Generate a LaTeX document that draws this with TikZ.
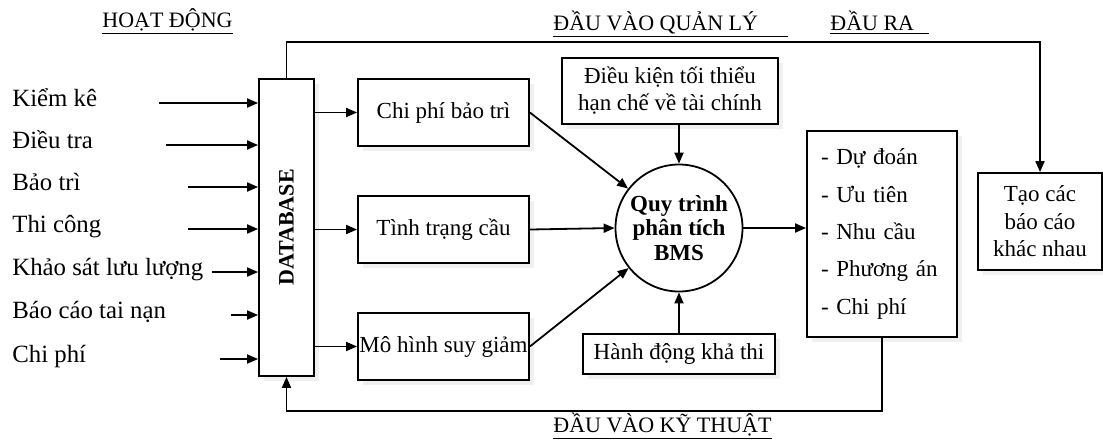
\documentclass[tikz,border=0pt]{standalone}
\usepackage{fontspec}
\setmainfont{Liberation Serif}
\usetikzlibrary{arrows.meta,positioning,shadows}

\begin{document}
\begin{tikzpicture}[x=0.5pt,y=-0.5pt,
  box/.style={draw, fill=white, line width=0.9pt, inner sep=0pt, align=center, font=\fontsize{11.5}{13.5}\selectfont,
    drop shadow={shadow xshift=2.5pt, shadow yshift=-2.5pt, fill=black!6, opacity=1}},
  arr/.style={-{Triangle[length=5.5pt,width=4.5pt]}, line width=0.9pt},
  lbl/.style={anchor=base west, inner sep=0pt, font=\fontsize{12.4}{14}\selectfont},
  head/.style={anchor=base west, inner sep=0pt, font=\fontsize{11}{13}\selectfont}]
  \useasboundingbox (0,0) rectangle (1103,441);

  % headings
  \node[head] (hoatdong) at (102,27) {\underline{HOẠT ĐỘNG}};
  \node[head] (quanly) at (553,30) {\underline{ĐẦU VÀO QUẢN LÝ\hspace{15pt}}};
  \node[head] (daura) at (830,30) {\underline{ĐẦU RA\hspace{7.5pt}}};
  \node[head] (kythuat) at (553,432) {\underline{ĐẦU VÀO KỸ THUẬT}};

  % database
  \node[box, minimum width=27.5pt, minimum height=148.5pt] (db) at (286.5,227.5) {};
  \node[rotate=90, font=\fontsize{11}{13}\selectfont\bfseries] (dbtext) at (db) {DATABASE};

  % activities
  \node[lbl] (kiemke) at (12,106) {Kiểm kê};
  \node[lbl] (dieutra) at (12,148) {Điều tra};
  \node[lbl] (baotri) at (12,190) {Bảo trì};
  \node[lbl] (thicong) at (12,232) {Thi công};
  \node[lbl] (khaosat) at (12,275) {Khảo sát lưu lượng};
  \node[lbl] (taonan) at (12,318) {Báo cáo tai nạn};
  \node[lbl] (chiphi) at (12,362) {Chi phí};

  \coordinate (in1) at (159,103);
  \coordinate (in2) at (166,145);
  \coordinate (in3) at (188,187);
  \coordinate (in4) at (188,229);
  \coordinate (in5) at (212,272);
  \coordinate (in6) at (231,315);
  \coordinate (in7) at (220,359);
  \draw[arr] (in1) -- (in1 -| db.west);
  \draw[arr] (in2) -- (in2 -| db.west);
  \draw[arr] (in3) -- (in3 -| db.west);
  \draw[arr] (in4) -- (in4 -| db.west);
  \draw[arr] (in5) -- (in5 -| db.west);
  \draw[arr] (in6) -- (in6 -| db.west);
  \draw[arr] (in7) -- (in7 -| db.west);

  % data boxes
  \node[box, minimum width=85.5pt, minimum height=33.5pt] (cpbt) at (443.5,112.5) {Chi phí bảo trì};
  \node[box, minimum width=85.5pt, minimum height=33.5pt] (ttc) at (443.5,229.5) {Tình trạng cầu};
  \node[box, minimum width=85.5pt, minimum height=33.5pt] (mhsg) at (443.5,346.5) {Mô hình suy giảm};

  \draw[arr] (db.east |- cpbt) -- (cpbt.west);
  \draw[arr] (db.east |- ttc) -- (ttc.west);
  \draw[arr] (db.east |- mhsg) -- (mhsg.west);

  % analysis
  \node[draw, circle, line width=0.9pt, minimum size=63.5pt, inner sep=0pt, align=center,
    font=\fontsize{11.5}{12.25}\selectfont\bfseries] (bms) at (679,228) {Quy trình\\phân tích\\BMS};
  \node[box, minimum width=108pt, minimum height=33pt] (dieukien) at (670,91) {Điều kiện tối thiểu\\hạn chế về tài chính};
  \node[box, minimum width=96pt, minimum height=20pt] (hanhdong) at (679,354) {Hành động khả thi};

  \draw[arr] (cpbt.east) -- (bms);
  \draw[arr] (ttc.east) -- (bms.west);
  \draw[arr] (mhsg.east) -- (bms);
  \draw[arr] (dieukien.south -| bms) -- (bms.north);
  \draw[arr] (hanhdong.north) -- (bms.south);

  % outputs
  \node[box, minimum height=103pt, text width=61pt, inner xsep=7pt, inner ysep=0pt,
    align=left, font=\fontsize{11.5}{18.65}\selectfont] (ketqua) at (882,234)
    {- Dự đoán\\- Ưu tiên\\- Nhu cầu\\- Phương án\\- Chi phí};
  \node[box, minimum width=62pt, minimum height=48.5pt, font=\fontsize{11.5}{13.75}\selectfont] (baocao) at (1040,221.5)
    {Tạo các\\báo cáo\\khác nhau};

  \draw[arr] (bms.east) -- (ketqua.west |- bms);
  \draw[arr] (db.north) -- ++(0,-36) -| (baocao.north);
  \draw[arr] (ketqua.south) -- ++(0,73) -| (db.south);
\end{tikzpicture}
\end{document}
